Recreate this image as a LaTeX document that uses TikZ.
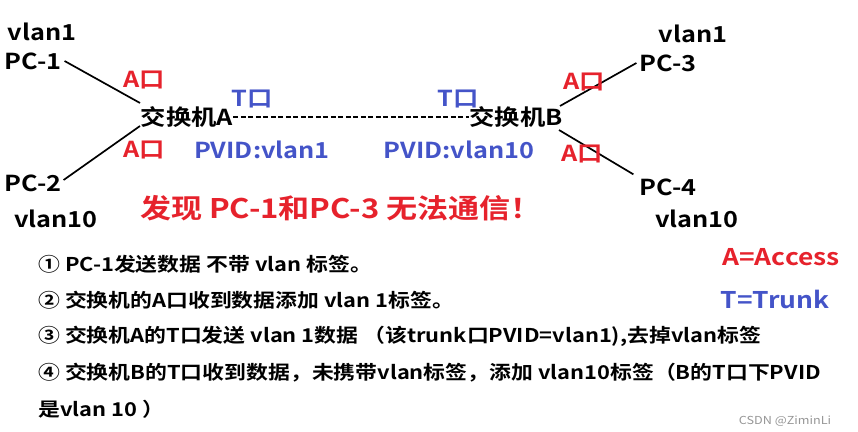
\documentclass[tikz,border=0pt]{standalone}
\usepackage{fontspec}
\setmainfont{Noto Sans CJK SC}[BoldFont={* Bold}, FakeStretch=1.15]
\usetikzlibrary{positioning}
\definecolor{portred}{RGB}{230,34,44}
\definecolor{portblue}{RGB}{68,84,200}
\definecolor{marktext}{RGB}{150,150,150}

\begin{document}
\begin{tikzpicture}[x=1pt, y=-1pt,
		lbl/.style={inner sep=0pt, font=\fontsize{22}{26}\selectfont\bfseries},
		aport/.style={lbl, text=portred},
		tport/.style={lbl, text=portblue},
		stepline/.style={inner sep=0pt, anchor=west, font=\fontsize{19}{23}\selectfont\bfseries},
		link/.style={line width=1.7pt}]
				\useasboundingbox (0,0) rectangle (858,431);
				% Switches and the trunk between them
				\node[lbl] (swA) at (187,117) {交换机A};
				\node[lbl] (swB) at (516,117) {交换机B};
				\draw[link, dash pattern=on 5pt off 2.5pt] (swA.east) -- (swB.west);
				% PCs
				\node[lbl] (pc1) at (33,61) {PC-1};
				\node[lbl] (pc2) at (33,183) {PC-2};
				\node[lbl] (pc3) at (668,63) {PC-3};
				\node[lbl] (pc4) at (668,187) {PC-4};
				\node[lbl] (v1) at (42,32) {vlan1};
				\node[lbl] (v2) at (56,219) {vlan10};
				\node[lbl] (v3) at (693,34) {vlan1};
				\node[lbl] (v4) at (697,219) {vlan10};
				% Access links
				\coordinate (a1) at (140,103);
				\coordinate (a2) at (140,126);
				\coordinate (b1) at (560,106);
				\coordinate (b2) at (559,130);
				\draw[link] ([xshift=3pt]pc1.east) -- (a1);
				\draw[link] ([shift={(2,-3)}]pc2.east) -- (a2);
				\draw[link] (b1) -- ([xshift=-3pt]pc3.west);
				\draw[link] (b2) -- ([shift={(-6,-4)}]pc4.north west);
				% Port labels
				\node[aport] (pa1) at (144,80) {A口};
				\node[aport] (pa2) at (144,150) {A口};
				\node[aport] (pb1) at (584,82) {A口};
				\node[aport] (pb2) at (582,154) {A口};
				\node[tport] (ta) at (252,99) {T口};
				\node[tport] (tb) at (458,99) {T口};
				\node[tport] (pvA) at (262,150) {PVID:vlan1};
				\node[tport] (pvB) at (459,150) {PVID:vlan10};
				% Result
				\node[inner sep=0pt, text=portred, font=\fontsize{27}{30}\selectfont\bfseries] (res) at (341,208) {发现 PC-1和PC-3 无法通信！};
				\node[aport, font=\fontsize{23}{26}\selectfont\bfseries] (keyA) at (781,257) {A=Access};
				\node[tport, font=\fontsize{23}{26}\selectfont\bfseries] (keyT) at (775,299) {T=Trunk};
				% Steps
				\node[stepline] (s1) at (38,264) {① PC-1发送数据 不带 vlan 标签。};
				\node[stepline] (s2) at (38,300) {② 交换机的A口收到数据添加 vlan 1标签。};
				\node[stepline] (s3) at (38,336) {③ 交换机A的T口发送 vlan 1数据 （该trunk口PVID=vlan1),去掉vlan标签};
				\node[stepline] (s4) at (38,373) {④ 交换机B的T口收到数据，未携带vlan标签，添加 vlan10标签（B的T口下PVID};
				\node[stepline] (s5) at (38,409) {是vlan 10 ）};
				\node[inner sep=0pt, text=marktext, font=\fontsize{11}{13}\selectfont] (mark) at (785,421) {CSDN @ZiminLi};
\end{tikzpicture}
\end{document}
